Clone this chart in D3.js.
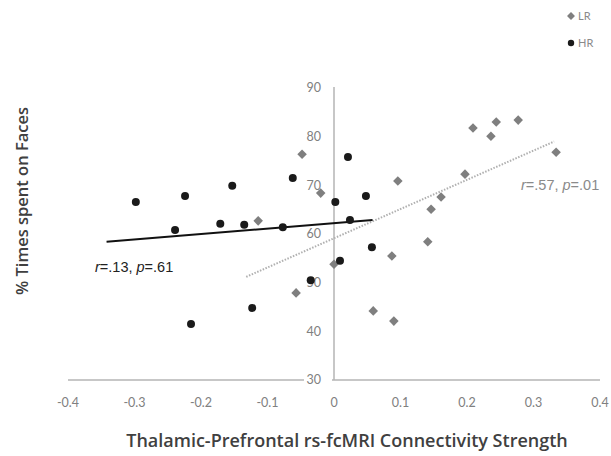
<!DOCTYPE html>
<html>
<head>
<meta charset="utf-8">
<script src="https://cdn.jsdelivr.net/npm/d3@7"></script>
<style>
  body { margin: 0; background: #fff; }
  svg { display: block; }
</style>
</head>
<body>
<svg id="chart" width="611" height="456"></svg>
<script>
// LR group (grey diamonds)
const lrX = [-0.048, -0.020, 0.096, 0.209, 0.244, 0.236, 0.277, 0.334, 0.197, 0.161, 0.146, 0.141, 0.087, 0.000, -0.114, -0.057, 0.059, 0.090];
const lrY = [76.4, 68.4, 70.9, 81.8, 83.0, 80.1, 83.4, 76.8, 72.3, 67.6, 65.1, 58.4, 55.5, 53.8, 62.7, 47.9, 44.2, 42.1];

// HR group (black circles)
const hrX = [-0.298, -0.224, -0.153, -0.062, -0.239, -0.171, -0.135, -0.077, 0.002, 0.021, 0.048, 0.024, 0.057, 0.009, -0.035, -0.123, -0.215];
const hrY = [66.6, 67.8, 69.9, 71.5, 60.8, 62.1, 61.9, 61.4, 66.6, 75.8, 67.8, 62.9, 57.3, 54.5, 50.5, 44.8, 41.5];

// fitted trend lines, endpoints as drawn
const hrTrend = [[-0.342, 58.4], [0.058, 62.9]];
const lrTrend = [[-0.132, 51.2], [0.331, 79.0]];

const xTicks = [-0.4, -0.3, -0.2, -0.1, 0, 0.1, 0.2, 0.3, 0.4];
const yTicks = [30, 40, 50, 60, 70, 80, 90];

const svg = d3.select('#chart');
const x = d3.scaleLinear().domain([-0.4, 0.4]).range([68, 600]);
const y = d3.scaleLinear().domain([30, 90]).range([380, 88]);

const axisColor = '#b4b4b4';
const tickColor = '#808080';

// horizontal axis across the whole range, vertical axis at x = 0
svg.append('line')
    .attr('x1', x(-0.4)).attr('x2', x(0.4))
    .attr('y1', y(30)).attr('y2', y(30))
    .attr('stroke', axisColor).attr('stroke-width', 1.5);
svg.append('line')
    .attr('x1', x(0)).attr('x2', x(0))
    .attr('y1', y(90) - 1).attr('y2', y(30))
    .attr('stroke', axisColor).attr('stroke-width', 1.5);

// y tick labels sit just left of the vertical axis
const yLab = svg.append('g');
yLab.selectAll('rect')
    .data(yTicks.filter(d => d === 30))
    .join('rect')
    .attr('x', x(0) - 30).attr('y', d => y(d) - 7)
    .attr('width', 28).attr('height', 14)
    .attr('fill', '#fff');
yLab.selectAll('text')
    .data(yTicks)
    .join('text')
    .attr('x', x(0) - 13)
    .attr('y', d => y(d))
    .attr('dy', '0.35em')
    .attr('text-anchor', 'end')
    .attr('font-family', 'Lato, sans-serif')
    .attr('font-size', 12.5)
    .attr('fill', tickColor)
    .text(d => d);

svg.append('g').selectAll('text')
    .data(xTicks)
    .join('text')
    .attr('x', d => x(d))
    .attr('y', 403)
    .attr('dy', '0.35em')
    .attr('text-anchor', 'middle')
    .attr('font-family', 'Lato, sans-serif')
    .attr('font-size', 12.5)
    .attr('fill', tickColor)
    .text(d => d === 0 ? '0' : d.toFixed(1));

// trend lines
const line = d3.line().x(d => x(d[0])).y(d => y(d[1]));
svg.append('path')
    .attr('d', line(lrTrend))
    .attr('fill', 'none')
    .attr('stroke', '#b0b0b0')
    .attr('stroke-width', 2)
    .attr('stroke-dasharray', '1.5,1.5');
svg.append('path')
    .attr('d', line(hrTrend))
    .attr('fill', 'none')
    .attr('stroke', '#111')
    .attr('stroke-width', 2);

// points
const diamond = d3.symbol().type(d3.symbolDiamond2).size(58);
svg.append('g').selectAll('path')
    .data(lrX.map((d, i) => [d, lrY[i]]))
    .join('path')
    .attr('d', diamond)
    .attr('transform', d => `translate(${x(d[0])},${y(d[1])})`)
    .attr('fill', '#7f7f7f');

svg.append('g').selectAll('circle')
    .data(hrX.map((d, i) => [d, hrY[i]]))
    .join('circle')
    .attr('cx', d => x(d[0]))
    .attr('cy', d => y(d[1]))
    .attr('r', 4)
    .attr('fill', '#1a1a1a');

// correlation notes
function note(px, py, color, r, p) {
    const t = svg.append('text')
        .attr('x', px).attr('y', py)
        .attr('dy', '0.35em')
        .attr('font-family', '"Liberation Sans", Arial, sans-serif')
        .attr('font-size', 14.5)
        .attr('fill', color);
    t.append('tspan').attr('font-style', 'italic').text('r');
    t.append('tspan').text(`=${r}, `);
    t.append('tspan').attr('font-style', 'italic').text('p');
    t.append('tspan').text(`=${p}`);
}
note(521, 185, '#8a8a8a', '.57', '.01');
note(95, 267, '#222', '.13', '.61');

// legend
const legend = svg.append('g');
legend.append('path')
    .attr('d', d3.symbol().type(d3.symbolDiamond2).size(40))
    .attr('transform', 'translate(571,16)')
    .attr('fill', '#7f7f7f');
legend.append('circle')
    .attr('cx', 571).attr('cy', 43).attr('r', 3.2)
    .attr('fill', '#1a1a1a');
legend.selectAll('text')
    .data(['LR', 'HR'])
    .join('text')
    .attr('x', 578)
    .attr('y', (d, i) => 16 + i * 27)
    .attr('dy', '0.35em')
    .attr('font-family', 'Lato, sans-serif')
    .attr('font-size', 11)
    .attr('fill', '#8a8a8a')
    .text(d => d);

// axis titles
svg.append('text')
    .attr('x', 347).attr('y', 441)
    .attr('dy', '0.35em')
    .attr('text-anchor', 'middle')
    .attr('font-family', '"Open Sans", sans-serif')
    .attr('font-weight', 600)
    .attr('font-size', 18)
    .attr('fill', '#404040')
    .text('Thalamic-Prefrontal rs-fcMRI Connectivity Strength');

svg.append('text')
    .attr('transform', 'translate(22,201) rotate(-90)')
    .attr('dy', '0.35em')
    .attr('text-anchor', 'middle')
    .attr('font-family', '"Open Sans", sans-serif')
    .attr('font-weight', 600)
    .attr('font-size', 16.5)
    .attr('fill', '#404040')
    .text('% Times spent on Faces');
</script>
</body>
</html>
